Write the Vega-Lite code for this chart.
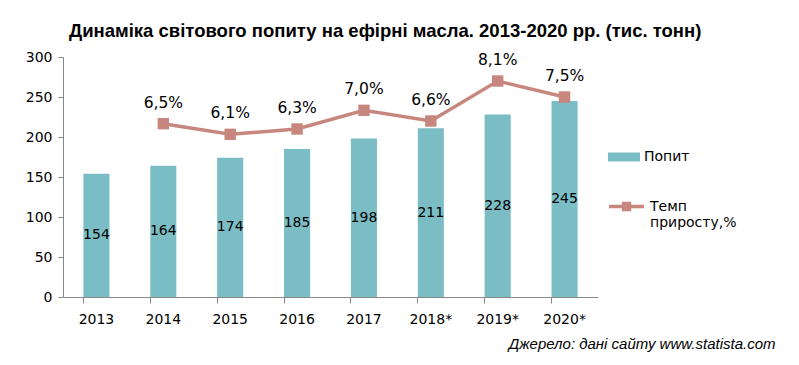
{
  "$schema": "https://vega.github.io/schema/vega-lite/v6.json",
  "width": 535,
  "height": 240,
  "autosize": {"type": "none"},
  "padding": {"left": 63, "top": 57, "right": 201, "bottom": 68},
  "config": {
    "view": {"stroke": null},
    "font": "DejaVu Sans",
    "locale": {"number": {"decimal": ",", "thousands": " ", "grouping": [3], "currency": ["", ""]}}
  },
  "title": {
    "text": "Динаміка світового попиту на ефірні масла. 2013-2020 рр. (тис. тонн)",
    "font": "Liberation Sans",
    "fontSize": 18.5,
    "fontWeight": "bold",
    "color": "#000",
    "anchor": "start",
    "frame": "group",
    "dx": 6,
    "offset": 10
  },
  "data": {
    "values": [
      {"year": "2013", "demand": 154, "rate": null},
      {"year": "2014", "demand": 164, "rate": 0.065},
      {"year": "2015", "demand": 174, "rate": 0.061},
      {"year": "2016", "demand": 185, "rate": 0.063},
      {"year": "2017", "demand": 198, "rate": 0.070},
      {"year": "2018*", "demand": 211, "rate": 0.066},
      {"year": "2019*", "demand": 228, "rate": 0.081},
      {"year": "2020*", "demand": 245, "rate": 0.075}
    ]
  },
  "encoding": {
    "x": {
      "field": "year",
      "type": "nominal",
      "sort": null,
      "scale": {"paddingInner": 0.61, "paddingOuter": 0.305},
      "axis": {
        "title": "Джерело: дані сайту www.statista.com",
        "titleFont": "Liberation Sans",
        "titleFontStyle": "italic",
        "titleFontWeight": "normal",
        "titleFontSize": 15,
        "titleColor": "#000",
        "titleAlign": "right",
        "titleAnchor": null,
        "titleX": 712,
        "titleY": 46,
        "titleBaseline": "middle",
        "labelAngle": 0,
        "labelFont": "DejaVu Sans",
        "labelFontSize": 14,
        "labelColor": "#000",
        "labelPadding": 9,
        "domainColor": "#888",
        "tickColor": "#888",
        "tickSize": 6,
        "bandPosition": 0,
        "grid": false
      }
    }
  },
  "layer": [
    {
      "mark": {"type": "bar"},
      "encoding": {
        "y": {
          "field": "demand",
          "type": "quantitative",
          "scale": {"domain": [0, 300]},
          "axis": {
            "title": null,
            "values": [0, 50, 100, 150, 200, 250, 300],
            "labelFont": "DejaVu Sans",
            "labelFontSize": 14,
            "labelColor": "#000",
            "labelPadding": 6,
            "tickSize": 5,
            "domainColor": "#888",
            "tickColor": "#888",
            "grid": false
          }
        },
        "fill": {
          "datum": "Попит",
          "type": "nominal",
          "scale": {"range": ["#7abdc5"]},
          "legend": {
            "title": null,
            "orient": "none",
            "legendX": 545,
            "legendY": 84,
            "padding": 0,
            "symbolType": "M-1,-0.28H1V0.28H-1Z",
            "symbolSize": 1024,
            "symbolStrokeWidth": 0,
            "labelFont": "DejaVu Sans",
            "labelFontSize": 14,
            "labelColor": "#000",
            "labelOffset": 4
          }
        }
      }
    },
    {
      "transform": [{"calculate": "datum.demand / 2", "as": "mid"}],
      "mark": {"type": "text", "font": "DejaVu Sans", "fontSize": 14, "color": "#000", "baseline": "middle"},
      "encoding": {
        "y": {"field": "mid", "type": "quantitative", "scale": {"domain": [0, 300]}, "axis": null},
        "text": {"field": "demand", "type": "quantitative"}
      }
    },
    {
      "mark": {"type": "line", "strokeWidth": 3.5},
      "encoding": {
        "y": {"field": "rate", "type": "quantitative", "scale": {"domain": [0, 0.09]}, "axis": null},
        "stroke": {
          "datum": "Темп приросту,%",
          "type": "nominal",
          "scale": {"range": ["#c8877e"]},
          "legend": {
            "title": null,
            "orient": "none",
            "legendX": 544,
            "legendY": 130,
            "padding": 0,
            "symbolType": "M-1,0H1M-0.17,-0.17H0.17V0.17H-0.17Z",
            "symbolSize": 1225,
            "symbolStrokeWidth": 3.5,
            "symbolFillColor": "#c8877e",
            "labelFont": "DejaVu Sans",
            "labelFontSize": 14,
            "labelColor": "#000",
            "labelOffset": 4,
            "labelExpr": "split(datum.label, ' ')"
          }
        }
      }
    },
    {
      "mark": {"type": "square", "size": 130, "color": "#c8877e", "opacity": 1},
      "encoding": {
        "y": {"field": "rate", "type": "quantitative", "scale": {"domain": [0, 0.09]}, "axis": null}
      }
    },
    {
      "mark": {"type": "text", "font": "DejaVu Sans", "fontSize": 15.5, "color": "#000", "baseline": "middle", "dy": -21},
      "encoding": {
        "y": {"field": "rate", "type": "quantitative", "scale": {"domain": [0, 0.09]}, "axis": null},
        "text": {"field": "rate", "type": "quantitative", "format": ".1%"}
      }
    }
  ],
  "resolve": {"scale": {"y": "independent"}}
}
